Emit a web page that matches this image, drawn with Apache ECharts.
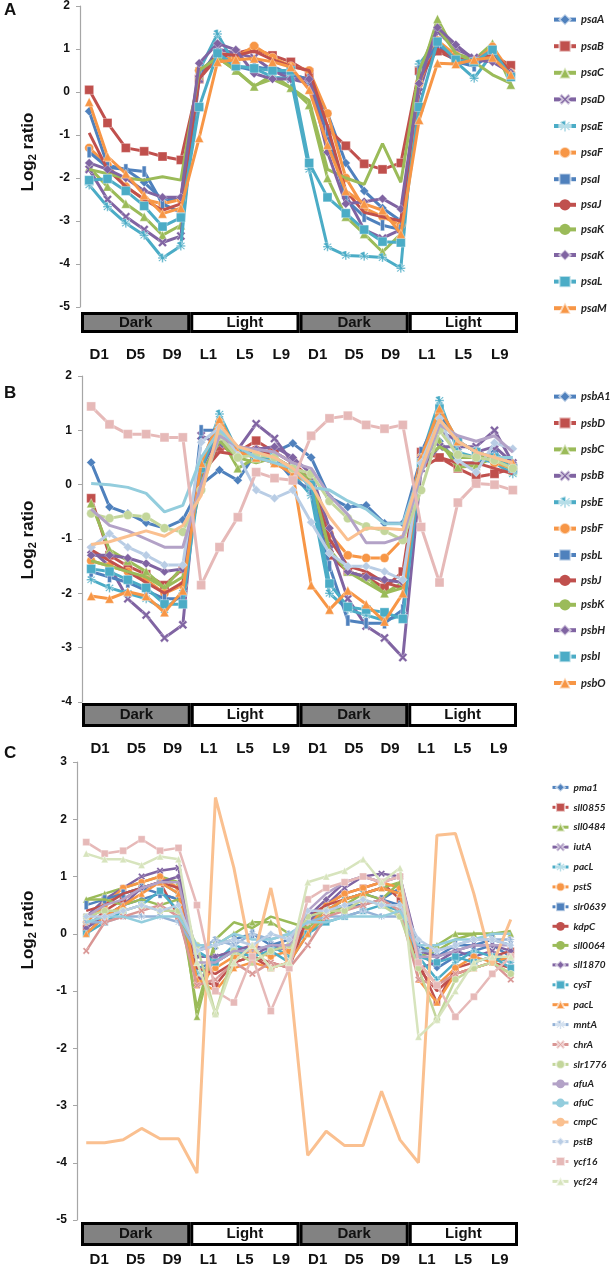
<!DOCTYPE html>
<html><head><meta charset="utf-8">
<script src="https://cdn.jsdelivr.net/npm/echarts@6/dist/echarts.min.js"></script>
<style>html,body{margin:0;padding:0;background:#fff}#c{width:610px;height:1270px}</style>
</head><body><div id="c"></div>
<script>
// ---------- categories / tick labels ----------
const timePoints = ['1D1','1D3','1D5','1D7','1D9','1D11','1L1','1L3','1L5','1L7','1L9','1L11',
                    '2D1','2D3','2D5','2D7','2D9','2D11','2L1','2L3','2L5','2L7','2L9','2L11'];
const phases = ['Dark','Light','Dark','Light'];
const tickLabels = ['D1','D5','D9','L1','L5','L9','D1','D5','D9','L1','L5','L9'];

// ---------- Panel A ----------
const psaA = [-0.45,-1.7,-1.8,-2.1,-2.5,-2.5, 0.5,0.8,0.55,0.6,0.5,0.4, 0.3,-0.5,-1.65,-2.3,-2.7,-3.0, 0.4,1.1,0.7,0.7,0.9,0.4];
const psaB = [0.05,-0.72,-1.3,-1.38,-1.5,-1.58, 0.3,0.8,0.9,1.0,0.85,0.7, 0.45,-0.85,-1.25,-1.67,-1.8,-1.65, 0.5,0.95,0.75,0.7,0.85,0.62];
const psaC = [-1.75,-2.2,-2.6,-2.9,-3.33,-3.1, 0.4,0.8,0.5,0.13,0.4,0.1, -0.3,-2.0,-2.9,-3.3,-3.72,-3.3, 0.3,1.7,0.9,0.75,1.13,0.17];
const psaD = [-1.8,-2.5,-2.9,-3.2,-3.5,-3.35, 0.3,1.0,0.9,0.8,0.5,0.3, 0.2,-1.0,-2.4,-3.2,-3.4,-3.2, 0.0,1.4,1.0,0.8,0.9,0.4];
const psaE = [-2.16,-2.67,-3.05,-3.33,-3.86,-3.58, 0.5,1.35,0.6,0.55,0.35,0.3, -1.8,-3.6,-3.8,-3.82,-3.85,-4.1, 0.65,1.2,0.7,0.32,0.9,0.4];
const psaF = [-1.3,-1.7,-2.2,-2.5,-2.6,-2.5, 0.5,0.75,0.8,1.07,0.8,0.6, 0.5,-0.5,-2.0,-2.7,-2.9,-3.1, 0.2,1.2,0.85,0.7,1.05,0.45];
const psaI = [-1.4,-1.75,-1.8,-1.85,-2.6,-2.8, 0.4,0.9,0.6,0.5,0.6,0.4, 0.3,-0.9,-2.5,-2.9,-3.1,-3.2, 0.5,1.1,0.7,0.6,0.9,0.4];
const psaJ = [-0.95,-1.8,-2.2,-2.5,-2.75,-2.6, 0.3,0.9,0.85,0.95,0.75,0.6, 0.5,-0.8,-2.3,-2.8,-2.9,-3.0, 0.3,1.0,0.8,0.7,0.9,0.5];
const psaK = [-1.8,-1.9,-2.0,-2.05,-1.97,-2.05, 0.5,0.8,0.5,0.15,0.3,0.1, -0.2,-1.8,-2.0,-2.15,-1.2,-2.1, 0.5,1.5,0.9,0.7,0.4,0.2];
const psaK2 = [-1.65,-1.8,-2.0,-2.3,-2.45,-2.45, 0.67,1.13,0.98,0.43,0.3,0.3, 0.3,-1.4,-2.6,-2.55,-2.48,-2.72, 0.2,1.5,1.1,0.75,0.7,0.45];
const psaL = [-2.05,-2.02,-2.3,-2.65,-3.13,-2.92, -0.35,0.9,0.6,0.55,0.5,0.5, -1.65,-2.45,-2.82,-3.2,-3.48,-3.5, -0.35,1.17,0.75,0.7,0.98,0.35];
const psaM = [-0.23,-1.5,-1.9,-2.4,-2.83,-2.7, -1.07,0.7,0.75,0.78,0.7,0.58, 0.05,-1.23,-2.3,-2.6,-2.75,-3.3, -0.65,0.67,0.65,0.75,0.8,0.4];

// ---------- Panel B ----------
const psbA1 = [0.41,-0.41,-0.53,-0.7,-0.8,-0.65, 0.0,0.27,0.08,0.6,0.6,0.76, 0.5,-0.23,-0.41,-0.38,-0.71,-0.71, 0.5,0.8,0.4,0.4,0.6,0.3];
const psbD = [-0.25,-1.3,-1.5,-1.65,-1.85,-1.55, 0.2,0.7,0.6,0.81,0.6,0.4, 0.1,-1.3,-1.6,-1.7,-1.9,-1.6, 0.6,0.5,0.3,0.14,0.2,0.3];
const psbC = [-0.34,-1.2,-1.4,-1.6,-1.9,-1.5, 0.0,0.9,0.3,0.5,0.5,0.3, 0.0,-1.2,-1.6,-1.7,-2.0,-1.8, 0.5,0.8,0.32,0.35,0.5,0.25];
const psbB = [-1.2,-1.5,-2.1,-2.4,-2.82,-2.58, 0.9,0.75,0.65,1.12,0.85,0.4, -0.1,-1.1,-2.1,-2.6,-2.82,-3.18, 0.3,0.7,0.7,0.7,1.0,0.4];
const psbE = [-1.75,-1.9,-2.0,-2.1,-2.3,-2.0, 0.3,1.3,0.6,0.5,0.5,0.2, -0.2,-2.0,-2.3,-2.4,-2.5,-2.4, 0.5,1.55,0.6,0.5,0.4,0.2];
const psbF = [-1.4,-1.5,-1.6,-1.75,-2.0,-1.85, 0.3,1.15,0.6,0.5,0.4,0.2, 0.0,-0.9,-1.3,-1.35,-1.35,-1.0, 0.5,1.3,0.8,0.6,0.4,0.3];
const psbL = [-1.6,-1.7,-1.8,-1.95,-2.1,-2.1, 1.0,1.0,0.6,0.6,0.5,0.1, -0.1,-1.5,-2.5,-2.55,-2.55,-2.3, 0.6,1.3,0.8,0.6,0.5,0.3];
const psbJ = [-1.2,-1.4,-1.6,-1.8,-2.0,-1.8, 0.2,0.6,0.55,0.7,0.5,0.3, 0.1,-1.0,-1.5,-1.6,-1.8,-1.9, 0.3,0.5,0.4,0.4,0.3,0.2];
const psbK = [-1.4,-1.5,-1.6,-1.7,-1.9,-1.7, 0.2,0.8,0.5,0.4,0.5,0.3, 0.1,-1.2,-1.6,-1.8,-2.0,-1.9, 0.4,0.7,0.5,0.5,0.5,0.3];
const psbH = [-1.3,-1.3,-1.35,-1.45,-1.6,-1.55, 0.3,0.95,0.6,0.65,0.7,0.5, 0.2,-0.8,-1.6,-1.7,-1.75,-1.8, 0.5,1.0,0.8,0.6,0.7,0.4];
const psbI = [-1.55,-1.6,-1.75,-1.9,-2.2,-2.2, 0.3,1.1,0.6,0.5,0.5,0.3, 0.0,-1.82,-2.25,-2.3,-2.35,-2.47, 0.4,1.4,0.8,0.6,0.5,0.3];
const psbO = [-2.05,-2.1,-1.97,-2.05,-2.35,-1.95, 0.4,1.2,0.6,0.5,0.4,0.2, -1.85,-2.3,-1.95,-2.2,-2.52,-2.0, 0.5,1.4,0.8,0.6,0.5,0.4];
// further B series (not listed in the legend)
const psbX13 = [-1.15,-0.9,-1.15,-1.3,-1.48,-1.48, 0.78,1.05,0.54,-0.1,-0.25,-0.1, -0.69,-1.26,-1.5,-1.5,-1.6,-1.75, 0.4,1.22,0.45,0.23,0.77,0.66];
const psbX14 = [-0.53,-0.62,-0.56,-0.59,-0.8,-0.87, -0.1,0.9,0.5,0.55,0.5,0.3, 0.2,-0.3,-0.62,-0.77,-0.85,-1.02, -0.1,1.0,0.55,0.5,0.45,0.3];
const psbX15 = [-0.45,-0.75,-0.85,-1.0,-1.15,-1.15, 0.0,0.9,0.7,0.65,0.6,0.4, 0.3,-0.2,-0.55,-1.07,-1.07,-0.96, 0.2,1.1,0.9,0.8,0.9,0.6];
const psbX16 = [0.02,0.0,-0.05,-0.16,-0.5,-0.38, 0.5,1.0,0.7,0.5,0.4,0.3, -0.05,-0.1,-0.3,-0.45,-0.72,-0.72, 0.3,1.2,0.8,0.6,0.5,0.5];
const psbX17 = [-1.1,-1.05,-0.95,-0.85,-0.95,-0.75, -0.2,1.1,0.7,0.6,0.5,0.3, 0.0,-0.6,-1.02,-0.8,-0.8,-0.83, 0.3,1.2,0.8,0.6,0.5,0.4];
const psbX18 = [1.44,1.11,0.93,0.93,0.87,0.87, -1.85,-1.15,-0.6,0.23,0.12,0.08, 0.9,1.22,1.27,1.1,1.03,1.1, -0.78,-1.8,-0.33,0.02,0.0,-0.1];

// ---------- Panel C ----------
const pma1 = [0.0,0.3,0.5,0.6,0.7,0.6, -0.6,-0.5,-0.3,-0.4,-0.3,-0.2, 0.0,0.4,0.6,0.7,0.6,0.8, -0.3,-0.6,-0.4,-0.3,-0.2,-0.4];
const sll0855 = [0.1,0.4,0.6,0.8,0.9,0.3, -0.8,-0.9,-0.5,-0.4,-0.6,-0.5, 0.2,0.5,0.7,0.8,0.9,0.6, -0.5,-1.2,-0.6,-0.5,-0.4,-0.3];
const sll0484 = [0.6,0.7,0.8,0.9,1.0,0.9, -1.45,-0.2,0.0,0.2,0.2,0.0, 0.0,0.3,0.5,0.7,0.8,0.9, -0.3,-0.2,0.0,0.0,0.0,0.0];
const iutA = [0.3,0.6,0.8,1.0,1.1,1.15, -0.9,-0.4,-0.3,-0.4,-0.2,-0.3, 0.2,0.5,0.8,1.0,1.05,1.0, -0.6,-0.5,-0.3,-0.4,-0.3,-0.5];
const pacL1 = [0.2,0.5,0.7,0.8,0.9,0.7, -0.7,-0.5,-0.2,-0.3,-0.2,-0.4, 0.1,0.4,0.6,0.7,0.8,0.7, -0.4,-0.8,-0.5,-0.3,-0.4,-0.5];
const pstS = [0.2,0.5,0.8,0.9,1.0,0.8, -0.9,-0.6,-0.4,-0.3,-0.4,-0.3, 0.1,0.5,0.7,0.8,0.9,0.8, -0.5,-0.9,-0.6,-0.4,-0.5,-0.4];
const slr0639 = [0.5,0.6,0.7,0.8,0.7,0.6, -0.3,-0.2,-0.1,0.0,-0.2,-0.1, 0.3,0.4,0.5,0.5,0.6,0.5, -0.2,-0.4,-0.2,-0.2,-0.1,-0.2];
const kdpC = [0.4,0.5,0.7,0.8,0.9,0.8, -0.6,-0.7,-0.5,-0.4,-0.5,-0.6, 0.3,0.5,0.6,0.7,0.8,0.7, -0.6,-1.0,-0.7,-0.6,-0.5,-0.6];
const sll0064 = [0.6,0.6,0.5,0.6,0.5,0.6, -1.3,-0.1,0.2,0.1,0.3,0.2, 0.1,0.4,0.6,0.7,0.6,0.9, -0.4,-0.3,-0.1,0.0,0.0,0.05];
const sll1870 = [0.1,0.3,0.5,0.8,0.9,1.0, -0.4,-0.4,-0.3,-0.2,-0.3,-0.2, 0.3,0.6,0.9,1.0,0.9,1.0, -0.3,-0.4,-0.3,-0.2,-0.2,-0.3];
const cysT = [0.0,0.2,0.4,0.5,0.75,0.4, -0.3,-0.5,-0.3,-0.4,-0.3,-0.5, 0.0,0.2,0.3,0.4,0.5,0.4, -0.4,-0.5,-0.4,-0.5,-0.4,-0.6];
const pacL2 = [0.0,0.3,0.5,0.7,0.9,0.7, -0.8,-1.0,-0.6,-0.5,-0.6,-0.5, 0.0,0.4,0.6,0.7,0.8,0.7, -0.8,-1.2,-0.7,-0.6,-0.5,-0.7];
const mntA = [0.2,0.2,0.3,0.3,0.3,0.2, -0.3,-0.1,-0.2,0.0,-0.1,0.0, 0.2,0.3,0.3,0.4,0.3,0.3, -0.3,-0.3,-0.2,-0.1,-0.1,-0.1];
const chrA = [-0.3,0.2,0.3,0.4,0.5,0.3, -0.9,-0.8,-0.5,-0.7,-0.5,-0.6, -0.2,0.3,0.4,0.5,0.6,0.4, -0.8,-0.9,-0.7,-0.6,-0.5,-0.8];
const slr1776 = [0.3,0.4,0.4,0.5,0.4,0.4, -0.2,-1.4,-0.3,-0.5,-0.3,-0.2, 0.3,0.4,0.4,0.6,0.5,0.3, -0.6,-1.5,-0.8,-0.6,-0.5,-0.7];
const afuA = [0.3,0.5,0.6,0.8,0.9,0.9, -0.5,-0.5,-0.3,-0.3,-0.2,-0.2, 0.4,0.7,0.9,1.0,0.9,1.0, -0.4,-0.4,-0.3,-0.2,-0.2,-0.2];
const afuC = [0.2,0.3,0.3,0.2,0.3,0.3, -0.2,-0.2,0.0,-0.1,-0.1,0.0, 0.2,0.2,0.3,0.3,0.3,0.4, -0.2,-0.2,-0.1,-0.1,0.0,0.0];
const cmpC = [-3.65,-3.65,-3.6,-3.4,-3.58,-3.58, -4.18,2.38,1.15,-0.5,0.8,-0.7, -3.87,-3.45,-3.7,-3.7,-2.75,-3.6, -4.0,1.72,1.75,0.7,-0.55,0.25];
const pstB = [0.3,0.3,0.4,0.5,0.4,0.5, -0.3,-0.2,-0.1,-0.2,0.0,-0.1, 0.4,0.4,0.5,0.6,0.5,0.5, -0.1,-0.3,-0.2,-0.1,-0.1,-0.2];
const ycf16 = [1.6,1.4,1.45,1.65,1.45,1.5, 0.5,-1.0,-1.2,-0.4,-1.35,-0.6, 0.6,0.8,0.9,1.0,0.9,1.0, -0.5,-0.9,-1.45,-1.1,-0.7,-0.4];
const ycf24 = [1.4,1.3,1.3,1.2,1.35,1.3, -0.5,-1.4,-0.5,-0.2,-0.6,-0.5, 0.9,1.0,1.1,1.3,0.9,1.15, -1.8,-1.5,-1.0,-0.5,-0.4,-0.4];

// ---------- styles ----------
const SYM = {
  diamond: 'diamond', square: 'rect', triangle: 'triangle', circle: 'circle', none: 'none',
  x: 'path://M2,0 L5,3 L8,0 L10,2 L7,5 L10,8 L8,10 L5,7 L2,10 L0,8 L3,5 L0,2 Z',
  star: 'path://M4.2,0 H5.8 V3.6 L8.6,1 L9.6,2 L6.6,4.2 H10 V5.8 H6.6 L9.6,8 L8.6,9 L5.8,6.4 V10 H4.2 V6.4 L1.4,9 L0.4,8 L3.4,5.8 H0 V4.2 H3.4 L0.4,2 L1.4,1 Z',
  plus: 'path://M4,0 H6 V10 H4 Z'
};
const baseStyles = [
  ['#4F81BD','diamond'],['#C0504D','square'],['#9BBB59','triangle'],['#8064A2','x'],
  ['#4BACC6','star'],['#F79646','circle'],['#4F81BD','plus'],['#C0504D','none'],
  ['#9BBB59','none'],['#8064A2','diamond'],['#4BACC6','square'],['#F79646','triangle'],
  ['#95B3D7','star'],['#D99694','x'],['#C3D69B','circle'],['#B3A2C7','none'],
  ['#93CDDD','none'],['#FAC090','none'],['#B9CDE5','diamond'],['#E6B9B8','square'],['#D7E4BD','triangle']
];

const FONT = 'Liberation Sans, Arial, sans-serif';
const gridsDef = [
  {main:{left:80, top:6, width:440, height:301}, box:{left:81, top:312, width:437, height:21}, min:-5, max:2, labMargin:14, lw:3, ss:9},
  {main:{left:82, top:376, width:440, height:326}, box:{left:82, top:703, width:435, height:24}, min:-4, max:2, labMargin:14, lw:3, ss:9},
  {main:{left:77, top:762, width:443, height:458}, box:{left:81, top:1222, width:437, height:24}, min:-5, max:3, labMargin:6, lw:2.5, ss:7}
];

const panels = [
  {names:['psaA','psaB','psaC','psaD','psaE','psaF','psaI','psaJ','psaK','psaK\u200b','psaL','psaM'],
   data:[psaA,psaB,psaC,psaD,psaE,psaF,psaI,psaJ,psaK,psaK2,psaL,psaM],
   styles:[0,1,2,3,4,5,6,7,8,9,10,11]},
  {names:['psbA1','psbD','psbC','psbB','psbE','psbF','psbL','psbJ','psbK','psbH','psbI','psbO','x13','x14','x15','x16','x17','x18'],
   data:[psbA1,psbD,psbC,psbB,psbE,psbF,psbL,psbJ,psbK,psbH,psbI,psbO,psbX13,psbX14,psbX15,psbX16,psbX17,psbX18],
   styles:[0,1,2,3,4,5,6,7,8,9,10,11,18,14,15,16,17,19]},
  {names:['pma1','sll0855','sll0484','iutA','pacL','pstS','slr0639','kdpC','sll0064','sll1870','cysT','pacL\u200b','mntA','chrA','slr1776','afuA','afuC','cmpC','pstB','ycf16','ycf24'],
   data:[pma1,sll0855,sll0484,iutA,pacL1,pstS,slr0639,kdpC,sll0064,sll1870,cysT,pacL2,mntA,chrA,slr1776,afuA,afuC,cmpC,pstB,ycf16,ycf24],
   styles:[0,1,2,3,4,5,6,7,8,9,10,11,12,13,14,15,16,17,18,19,20]}
];

const grid = [], xAxis = [], yAxis = [], series = [], legend = [];
gridsDef.forEach((g, p) => {
  const gi = grid.length;
  grid.push(Object.assign({containLabel:false}, g.main));
  grid.push(Object.assign({containLabel:false}, g.box));
  const xi = xAxis.length, yi = yAxis.length;
  xAxis.push({type:'category', gridIndex:gi, data:timePoints, boundaryGap:true,
    axisLine:{show:false}, axisTick:{show:false}, axisLabel:{show:false}});
  yAxis.push({type:'value', gridIndex:gi, min:g.min, max:g.max, interval:1,
    splitLine:{show:false},
    axisLine:{show:true, lineStyle:{color:'#a6a6a6', width:1.2}},
    axisTick:{show:true, length:4, lineStyle:{color:'#a6a6a6'}},
    axisLabel:{color:'#111', fontWeight:'bold', fontSize:12, fontFamily:FONT, margin:10}});
  const bxi = xAxis.length, byi = yAxis.length;
  xAxis.push({type:'category', gridIndex:gi+1, data:phases.map((ph,i)=>i), show:false});
  xAxis.push({type:'category', gridIndex:gi+1, position:'bottom', data:tickLabels.map((t,i)=>i),
    axisLine:{show:false}, axisTick:{show:false},
    axisLabel:{margin:g.labMargin, color:'#111', fontWeight:'bold', fontSize:15, fontFamily:FONT,
      formatter:(v,i)=>tickLabels[i]}});
  yAxis.push({type:'value', gridIndex:gi+1, min:0, max:1, show:false});
  series.push({type:'bar', xAxisIndex:bxi, yAxisIndex:byi, barWidth:'100%', silent:true,
    data:phases.map(ph=>({value:1, name:ph, itemStyle:{color: ph==='Dark' ? '#828282' : '#ffffff'}})),
    itemStyle:{borderColor:'#000', borderWidth:3},
    label:{show:true, position:'inside', formatter:(pr)=>phases[pr.dataIndex], color:'#111',
      fontWeight:'bold', fontSize:15, fontFamily:FONT}});
  const pn = panels[p];
  pn.data.forEach((d, k) => {
    const st = baseStyles[pn.styles[k]];
    const sym = SYM[st[1]];
    series.push({type:'line', name:pn.names[k], xAxisIndex:xi, yAxisIndex:yi, data:d,
      symbol:sym, symbolSize: st[1]==='plus' ? [4,g.ss+2] : g.ss, showSymbol: sym!=='none',
      lineStyle:{color:st[0], width: (p===2 && pn.names[k]==='cmpC') ? 3 : g.lw},
      itemStyle:{color:st[0], borderColor: sym==='none'?st[0]:'rgba(255,255,255,0.6)', borderWidth: sym==='none'?0:0.6},
      emphasis:{disabled:true}, z: 2 + k*0.01});
  });
});

const legText = (fs)=>({fontSize:fs, fontWeight:'bold', fontStyle:'italic', color:'#222', fontFamily:'Lato, '+FONT});
legend.push({data:panels[0].names, orient:'vertical', left:552, top:13, padding:0, itemWidth:22, itemHeight:14, itemGap:13.4,
  lineStyle:{width:4}, textStyle:legText(11), selectedMode:false});
legend.push({data:panels[1].names.slice(0,12), orient:'vertical', left:552, top:390, padding:0, itemWidth:22, itemHeight:14, itemGap:13.2,
  lineStyle:{width:4}, textStyle:legText(11), selectedMode:false});
legend.push({data:panels[2].names, orient:'vertical', left:551, top:782, padding:0, itemWidth:16, itemHeight:11, itemGap:9.1,
  lineStyle:{width:3}, textStyle:legText(10), selectedMode:false});

function yName(x, y) {
  return {type:'text', x:x, y:y, rotation:Math.PI/2, silent:true,
    style:{text:'{a|Log}{b|2}{a| ratio}', align:'center', verticalAlign:'middle',
      rich:{a:{fontSize:17, fontWeight:'bold', fontFamily:FONT, fill:'#111'},
            b:{fontSize:11, fontWeight:'bold', fontFamily:FONT, fill:'#111', padding:[9,0,0,0]}}}};
}
function letter(t, x, y) {
  return {type:'text', x:x, y:y, silent:true,
    style:{text:t, fontSize:17, fontWeight:'bold', fontFamily:FONT, fill:'#111', align:'left', verticalAlign:'middle'}};
}

const chart = echarts.init(document.getElementById('c'), null, {renderer:'canvas'});
chart.setOption({
  animation:false, backgroundColor:'#fff',
  grid, xAxis, yAxis, series, legend,
  graphic:[yName(28,152), yName(28,540), yName(28,930), letter('A',4,10), letter('B',4,393), letter('C',4,753)]
});
</script></body></html>
